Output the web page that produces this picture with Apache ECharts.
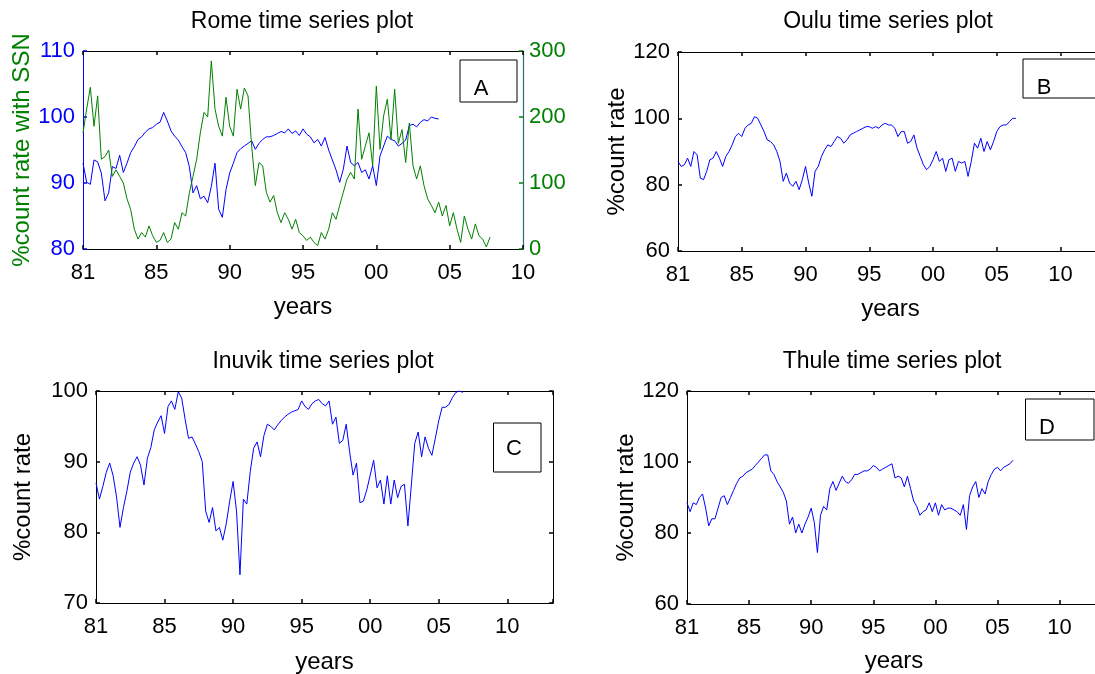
<!DOCTYPE html>
<html><head><meta charset="utf-8">
<script src="https://cdn.jsdelivr.net/npm/echarts@6/dist/echarts.min.js"></script>
<style>html,body{margin:0;padding:0;background:#fff}#c{width:1095px;height:674px}</style>
</head><body><div id="c"></div>
<script>
// ---- data (x = month index from the first tick "81", sampled every monthStep months) ----
const xTickLabels = ['81','85','90','95','00','05','10'];
const monthStep = 3;
const romeCount = [93,90.1,89.8,93.5,93.2,91.5,87.3,88.5,92.5,92.2,
94.2,91.6,93,94.6,95.5,96.6,97,97.7,98.2,98.4,
98.9,99.2,100.7,99.4,97.9,97.1,96.5,95.5,94.6,92.5,
88.5,89.6,87.6,88,87,89.5,93,86,84.8,89,
91.5,93,94.6,95.2,95.6,96,96.4,95.1,96,96.6,
97,97,97.2,97.5,97.8,97.6,98.2,97.5,97.9,97.2,
98.2,97.4,97,96.1,96.6,95.6,96.9,95,93.5,92,
90.1,92.1,95.6,93.1,92.6,93.1,91.6,92,90.6,92.6,
89.6,94.1,95.6,97.1,96.6,96.4,95.6,96,96.5,98.7,
98.9,98.5,99.2,99.6,99.4,100,99.8,99.7];
const romeSSN = [176,212,245,186,232,136,140,150,110,120,
110,100,76,60,30,15,25,18,35,20,
10,13,25,10,15,40,30,55,50,85,
110,136,176,207,200,285,212,186,171,230,
186,171,242,212,244,232,156,96,131,126,
86,71,81,55,40,55,45,30,45,25,
20,13,18,10,5,25,15,30,55,45,
66,86,106,116,106,212,136,156,176,126,
247,151,202,227,166,242,160,181,131,191,
126,106,126,96,76,66,55,71,50,66,
35,55,30,10,50,30,15,38,20,15,
3,18];
const ouluCount = [87,85.5,86,88,85.5,90,89,82,81.5,84,
87.5,88,90,88,85.5,88.5,90,92,94.5,95.5,
94.5,97,98,98.5,100.5,100,98,96,93.5,93,
92,90,87,81,83.5,80.5,79.5,81,78.5,81.5,
85.5,80.5,76.5,84,85.5,88.5,90.5,92,91.5,93,
94.5,94,92.5,93.5,95,95.5,96,96.5,97,97.5,
97.5,97,97.5,97,98,98.5,98,98,97,94.5,
96,96,92.5,93,95,91,88.5,86,84.5,85.5,
87.5,90,87,88,84,87.5,88,84,87,86.5,
87,82.5,87,92.5,91,94,90,93,90.5,93,
96,97.5,98,98,99,100,100];
const inuvikCount = [87,84.7,86.5,88.5,89.8,88,85,80.7,83.5,85.8,
88.5,89.8,90.7,89.5,86.7,90.5,92,94.5,95.6,96.5,
94,97.8,98.6,97.4,99.9,99,96,93.3,93.5,92.5,
91.4,90,83,81.4,83.5,80.2,80.7,78.9,81.2,84.4,
87.2,83,74,84.7,84,88.6,91.9,92.8,90.7,93.7,
95.3,95,94.5,95.2,95.8,96.3,96.7,97,97.2,97.4,
98.6,97.8,97.4,98.2,98.6,98.8,98.2,97.9,98.6,95.3,
96.3,92.6,93,95.3,91.4,88.1,89.8,84.2,84.4,86,
88.1,90.2,86.3,87.4,84,88,84,87.4,84.9,86.5,
86.8,80.9,86.7,92.6,94.2,90.7,93.5,91.9,90.9,93.3,
95.8,97.7,97.7,98.1,99.1,99.8,100,99.8];
const thuleCount = [88.5,86,88.5,88,90,91,87,82,84,84,
87,90,90.5,88,90,92,94,95.5,96,97,
97.5,98,99,100,101,102,102,97.5,96.5,94.5,
93,91.5,89,82.5,84.5,80,82.5,80,82.5,84.5,
87,83,74.5,85,87.5,86.5,92.5,94.5,92,94,
96,94.5,94,95,96.5,96.5,97,97.5,97.5,98,
99,98.5,97.5,98,98.5,99,99.5,95.5,96,95.5,
93,96,92.5,89,87.5,85,86,86.5,88.5,86,
88.5,85,88,86.5,87,87,86.5,86,85,88,
81,90.5,93,94.5,90,92.5,91,94.5,96.5,98,
98.5,97.5,98.5,99,99.5,100.5];
const titles = ['Rome time series plot','Oulu time series plot','Inuvik time series plot','Thule time series plot'];
const boxLetters = ['A','B','C','D'];

// ---- layout / style ----
const FONT = '"Liberation Sans", Arial, Helvetica, sans-serif';
const FS = 22, FS_TITLE = 23, FS_NAME = 24;
const BLUE = '#0000ff', GREEN = '#008000', TEAL = '#2a6e7c', BLACK = '#000000';
const toPairs = arr => arr.map((v, i) => [i * monthStep, v]);

const P = [
  {left:83, top:51, width:440, height:198, xMax:360, yMin:80, yMax:110, yStep:10, yName:'%count rate with SSN', yNameColor:GREEN, yLabelColor:BLUE, yLineColor:BLUE, yGap:46, xGap:46},
  {left:678, top:52, width:425, height:199, xMax:400, yMin:60, yMax:120, yStep:20, yName:'%count rate', yNameColor:BLACK, yLabelColor:BLACK, yLineColor:BLACK, yGap:49, xGap:46},
  {left:96, top:391, width:457, height:212, xMax:400, yMin:70, yMax:100, yStep:10, yName:'%count rate', yNameColor:BLACK, yLabelColor:BLACK, yLineColor:BLACK, yGap:61, xGap:47},
  {left:687, top:391, width:414, height:213, xMax:400, yMin:60, yMax:120, yStep:20, yName:'%count rate', yNameColor:BLACK, yLabelColor:BLACK, yLineColor:BLACK, yGap:49, xGap:45}
];
const titlePos = [[302,22],[888,22],[323,362],[892,362]];
const boxes = [
  {x:460, y:60, w:57, h:42, tx:481, ty:89},
  {x:1023, y:59, w:90, h:39, tx:1044, ty:88},
  {x:493.5, y:423, w:47.5, h:49, tx:514, ty:449},
  {x:1025.5, y:399, w:68.5, h:41, tx:1047, ty:428}
];

const txt = (c, s) => ({fontSize:s || FS, fontFamily:FONT, color:c});
const grids = [], xAxes = [], yAxes = [];
P.forEach((p, g) => {
  grids.push({left:p.left, top:p.top, width:p.width, height:p.height, containLabel:false, outerBoundsMode:'none'});
  xAxes.push({type:'value', gridIndex:g, position:'bottom', min:0, max:p.xMax, interval:60,
    axisLine:{show:true, onZero:false, lineStyle:{color:BLACK, width:1}},
    axisTick:{show:true, inside:true, length:4, lineStyle:{color:BLACK, width:1.5}},
    axisLabel:{margin:13, ...txt(BLACK), showMaxLabel:true, formatter: v => (v % 60 === 0 && xTickLabels[v/60] !== undefined) ? xTickLabels[v/60] : ''},
    splitLine:{show:false},
    name:'years', nameLocation:'middle', nameGap:p.xGap, nameTextStyle:txt(BLACK, FS_NAME)});
  xAxes.push({type:'value', gridIndex:g, position:'top', min:0, max:p.xMax, interval:60,
    axisLine:{show:true, onZero:false, lineStyle:{color:BLACK, width:1}},
    axisTick:{show:true, inside:true, length:4, lineStyle:{color:BLACK, width:1.5}},
    axisLabel:{show:false}, splitLine:{show:false}});
  yAxes.push({type:'value', gridIndex:g, position:'left', min:p.yMin, max:p.yMax, interval:p.yStep,
    axisLine:{show:true, onZero:false, lineStyle:{color:p.yLineColor, width:1}},
    axisTick:{show:true, inside:true, length:4, lineStyle:{color:p.yLineColor, width:1.5}},
    axisLabel:{margin:8, ...txt(p.yLabelColor)},
    splitLine:{show:false},
    name:p.yName, nameLocation:'middle', nameGap:p.yGap, nameTextStyle:txt(p.yNameColor, FS_NAME)});
  if (g === 0) {
    yAxes.push({type:'value', gridIndex:g, position:'right', min:0, max:300, interval:100,
      axisLine:{show:true, onZero:false, lineStyle:{color:TEAL, width:1.2}},
      axisTick:{show:true, inside:true, length:4, lineStyle:{color:GREEN, width:1.5}},
      axisLabel:{margin:6, ...txt(GREEN)}, splitLine:{show:false}});
  } else {
    yAxes.push({type:'value', gridIndex:g, position:'right', min:p.yMin, max:p.yMax, interval:p.yStep,
      axisLine:{show:true, onZero:false, lineStyle:{color:BLACK, width:1}},
      axisTick:{show:true, inside:true, length:4, lineStyle:{color:BLACK, width:1.5}},
      axisLabel:{show:false}, splitLine:{show:false}});
  }
});

const line = (data, xi, yi, color) => ({type:'line', xAxisIndex:xi, yAxisIndex:yi, data:toPairs(data),
  showSymbol:false, symbol:'none', silent:true, clip:true, lineStyle:{width:1, color}, itemStyle:{color}});

const graphics = [];
titles.forEach((t, i) => graphics.push({type:'text', x:titlePos[i][0], y:titlePos[i][1], z:100,
  style:{text:t, fill:BLACK, font:FS_TITLE + 'px ' + FONT, align:'center', verticalAlign:'middle'}}));
boxes.forEach((b, i) => {
  graphics.push({type:'rect', z:100, shape:{x:b.x, y:b.y, width:b.w, height:b.h}, style:{fill:'#fff', stroke:BLACK, lineWidth:1}});
  graphics.push({type:'text', z:101, x:b.tx, y:b.ty, style:{text:boxLetters[i], fill:BLACK, font:FS + 'px ' + FONT, align:'center', verticalAlign:'middle'}});
});

const chart = echarts.init(document.getElementById('c'), null, {renderer:'canvas'});
chart.setOption({
  animation:false,
  backgroundColor:'#ffffff',
  grid:grids, xAxis:xAxes, yAxis:yAxes,
  series:[
    line(romeCount, 0, 0, BLUE),
    line(romeSSN, 0, 1, GREEN),
    line(ouluCount, 2, 2, BLUE),
    line(inuvikCount, 4, 4, BLUE),
    line(thuleCount, 6, 6, BLUE)
  ],
  graphic:graphics
});
</script></body></html>
